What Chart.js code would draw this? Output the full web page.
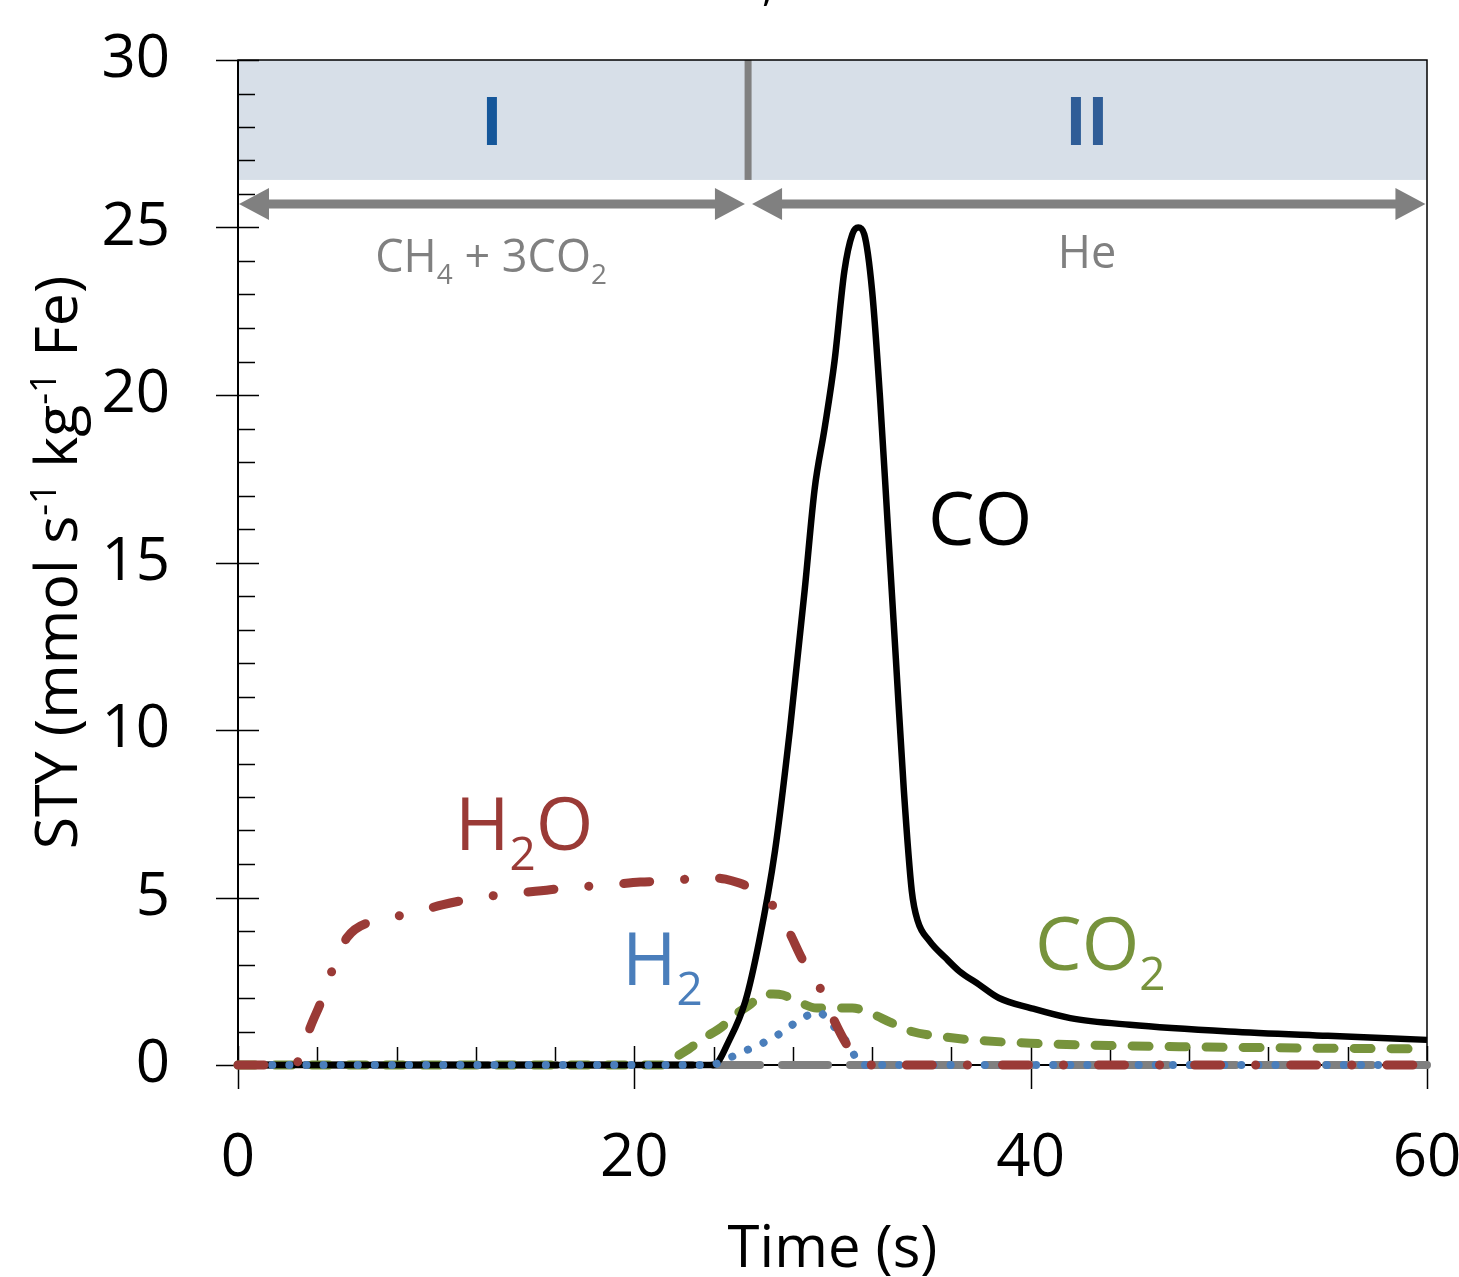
<!DOCTYPE html>
<html>
<head>
<meta charset="utf-8">
<script src="https://cdn.jsdelivr.net/npm/chart.js@4"></script>
<style>
  html, body { margin: 0; padding: 0; background: #fff; }
  canvas { display: block; }
</style>
</head>
<body>
<canvas id="chart" width="1459" height="1277"></canvas>
<script>
// Values: time in s, STY in mmol s-1 kg-1 Fe
const coTime = [0, 24.0, 24.8, 25.6, 26.3, 27.1, 27.85, 28.6, 29.1, 29.6, 30.1, 30.6, 31.0, 31.3, 31.6, 32.0, 32.4, 32.8, 33.2, 33.6, 34.0, 34.3, 34.9, 35.7, 36.4, 37.4, 38.4, 40, 42, 45, 50, 55, 60];
const coValues = [0, 0, 0.75, 1.9, 3.7, 6.4, 10.0, 14.2, 17.2, 19.0, 21.0, 23.7, 24.8, 25.0, 24.8, 23.1, 19.9, 16.0, 12.1, 8.2, 5.2, 4.3, 3.7, 3.2, 2.8, 2.4, 2.0, 1.7, 1.4, 1.2, 1.0, 0.87, 0.75];

const h2oTime = [0, 2.8, 3.2, 3.6, 4.2, 4.8, 5.5, 6.8, 8.6, 10.3, 11.8, 13.5, 15.3, 16.8, 18.6, 20.3, 21.9, 23.6, 24.6, 25.3, 26.0, 26.7, 27.7, 28.5, 29.3, 30.0, 30.8, 31.7, 60];
const h2oValues = [0, 0, 0.3, 1.05, 1.9, 2.9, 3.8, 4.3, 4.5, 4.78, 4.96, 5.1, 5.2, 5.3, 5.37, 5.46, 5.5, 5.6, 5.55, 5.43, 5.25, 4.96, 4.1, 3.13, 2.39, 1.43, 0.54, 0, 0];

const h2Time = [0, 23.8, 24.9, 25.7, 26.5, 27.3, 28.1, 28.9, 29.3, 29.7, 30.3, 30.9, 31.4, 60];
const h2Values = [0, 0, 0.24, 0.45, 0.66, 0.92, 1.25, 1.52, 1.58, 1.4, 0.98, 0.54, 0, 0];

const co2Time = [0, 21.5, 22.0, 22.8, 23.5, 24.4, 25.0, 25.8, 26.5, 27.0, 27.5, 28.3, 29.2, 30.0, 31.0, 31.9, 32.9, 34.0, 35.5, 37, 40, 45, 50, 55, 60];
const co2Values = [0, 0, 0.2, 0.5, 0.8, 1.13, 1.46, 1.79, 2.09, 2.12, 2.09, 1.88, 1.7, 1.7, 1.7, 1.55, 1.28, 1.0, 0.85, 0.75, 0.65, 0.57, 0.53, 0.5, 0.48];

const ch4Time = [0, 60];
const ch4Values = [0, 0];

const FONT = '"Open Sans", "DejaVu Sans", sans-serif';
const GRAY = '#808080';

function toPoints(times, values) {
    return times.map((t, i) => ({ x: t, y: values[i] }));
}

// Text with sub/superscript parts: [text, kind]
function drawRich(ctx, parts, x, y, size, color, align, bold) {
    const fontOf = s => (bold ? 'bold ' : '') + s + 'px ' + FONT;
    let total = 0;
    parts.forEach(([t, k]) => {
        ctx.font = fontOf(k ? size * 0.62 : size);
        total += ctx.measureText(t).width;
    });
    let cx = align === 'center' ? x - total / 2 : x;
    ctx.fillStyle = color;
    ctx.textAlign = 'left';
    ctx.textBaseline = 'alphabetic';
    parts.forEach(([t, k]) => {
        ctx.font = fontOf(k ? size * 0.62 : size);
        const dy = k === 'sub' ? size * 0.27 : (k === 'sup' ? -size * 0.35 : 0);
        ctx.fillText(t, cx, y + dy);
        cx += ctx.measureText(t).width;
    });
}

function drawArrow(ctx, x1, x2, y) {
    const hl = 30, hw = 16;
    ctx.strokeStyle = GRAY;
    ctx.fillStyle = GRAY;
    ctx.lineWidth = 9;
    ctx.beginPath();
    ctx.moveTo(x1 + hl - 2, y);
    ctx.lineTo(x2 - hl + 2, y);
    ctx.stroke();
    ctx.beginPath();
    ctx.moveTo(x1, y);
    ctx.lineTo(x1 + hl, y - hw);
    ctx.lineTo(x1 + hl, y + hw);
    ctx.closePath();
    ctx.fill();
    ctx.beginPath();
    ctx.moveTo(x2, y);
    ctx.lineTo(x2 - hl, y - hw);
    ctx.lineTo(x2 - hl, y + hw);
    ctx.closePath();
    ctx.fill();
}

// Phase band, axes, ticks and annotations
const decorPlugin = {
    id: 'decor',
    beforeDatasetsDraw(chart) {
        const { ctx, chartArea: a, scales: { x, y } } = chart;
        ctx.save();

        // phase band I / II
        const bandTop = y.getPixelForValue(30);
        const bandBottom = y.getPixelForValue(26.42);
        ctx.fillStyle = '#d7dfe8';
        ctx.fillRect(a.left, bandTop, a.right - a.left, bandBottom - bandTop);
        ctx.fillStyle = GRAY;
        const divX = x.getPixelForValue(25.74);
        ctx.fillRect(divX - 3.5, bandTop, 7, bandBottom - bandTop);

        // frame
        ctx.strokeStyle = '#000';
        ctx.lineWidth = 1.5;
        ctx.strokeRect(a.left, a.top, a.right - a.left, a.bottom - a.top);
        ctx.lineWidth = 2;
        ctx.beginPath();
        ctx.moveTo(a.left, a.top);
        ctx.lineTo(a.left, a.bottom);
        ctx.lineTo(a.right, a.bottom);
        ctx.stroke();

        // y ticks: major every 5 crossing the axis, minor every 1 inside
        ctx.lineWidth = 1.5;
        ctx.beginPath();
        for (let v = 0; v <= 30; v += 1) {
            const py = Math.round(y.getPixelForValue(v)) + 0.5;
            if (v % 5 === 0) {
                ctx.moveTo(a.left - 22, py);
                ctx.lineTo(a.left + 21, py);
            } else {
                ctx.moveTo(a.left, py);
                ctx.lineTo(a.left + 17, py);
            }
        }
        // x ticks: major every 20 crossing, minor every 4 inside
        for (let t = 0; t <= 60; t += 4) {
            const px = Math.round(x.getPixelForValue(t)) + 0.5;
            ctx.moveTo(px, a.bottom);
            ctx.lineTo(px, a.bottom - 18);
        }
        for (let t = 0; t <= 60; t += 20) {
            const px = Math.round(x.getPixelForValue(t)) + 0.5;
            ctx.moveTo(px, a.bottom - 19);
            ctx.lineTo(px, a.bottom + 24);
        }
        ctx.stroke();
        ctx.restore();
    },
    afterDatasetsDraw(chart) {
        const { ctx, scales: { x, y } } = chart;
        ctx.save();

        // phase labels
        drawRich(ctx, [['I', '']], x.getPixelForValue(12.82), y.getPixelForValue(27.46), 66, '#15579a', 'center', true);
        drawRich(ctx, [['II', '']], x.getPixelForValue(42.84), y.getPixelForValue(27.46), 66, '#2f5d97', 'center', true);

        // feed arrows
        const ay = y.getPixelForValue(25.7);
        drawArrow(ctx, x.getPixelForValue(0.05), x.getPixelForValue(25.58), ay);
        drawArrow(ctx, x.getPixelForValue(25.94), x.getPixelForValue(59.92), ay);
        drawRich(ctx, [['CH', ''], ['4', 'sub'], [' + 3CO', ''], ['2', 'sub']],
            x.getPixelForValue(12.77), y.getPixelForValue(23.67), 45, GRAY, 'center');
        drawRich(ctx, [['He', '']], x.getPixelForValue(42.84), y.getPixelForValue(23.79), 45, GRAY, 'center');

        // series labels
        drawRich(ctx, [['CO', '']], x.getPixelForValue(34.82), y.getPixelForValue(15.52), 74, '#000', 'left');
        drawRich(ctx, [['H', ''], ['2', 'sub'], ['O', '']], x.getPixelForValue(10.95), y.getPixelForValue(6.42), 74, '#9a3a36', 'left');
        drawRich(ctx, [['H', ''], ['2', 'sub']], x.getPixelForValue(19.38), y.getPixelForValue(2.39), 74, '#4a7ebb', 'left');
        drawRich(ctx, [['CO', ''], ['2', 'sub']], x.getPixelForValue(40.22), y.getPixelForValue(2.84), 74, '#77933c', 'left');

        // y axis title
        ctx.translate(77, (chart.chartArea.top + chart.chartArea.bottom) / 2);
        ctx.rotate(-Math.PI / 2);
        drawRich(ctx, [['STY (mmol s', ''], ['-1', 'sup'], [' kg', ''], ['-1', 'sup'], [' Fe)', '']], 0, 0, 59, '#000', 'center');
        ctx.restore();

        // fragment of the cut-off caption above the plot
        ctx.save();
        ctx.fillStyle = '#000';
        ctx.font = '44px ' + FONT;
        ctx.textAlign = 'left';
        ctx.textBaseline = 'alphabetic';
        ctx.fillText(',', 762, 0);
        ctx.restore();
    }
};

const ctx = document.getElementById('chart');

new Chart(ctx, {
    type: 'line',
    data: {
        datasets: [
            {
                label: 'H2O',
                data: toPoints(h2oTime, h2oValues),
                borderColor: '#9a3a36',
                borderWidth: 9,
                borderDash: [26, 35, 0.1, 35],
                borderCapStyle: 'round',
                cubicInterpolationMode: 'monotone',
                clip: 10,
                order: 0
            },
            {
                label: 'H2',
                data: toPoints(h2Time, h2Values),
                borderColor: '#4a7ebb',
                borderWidth: 8,
                borderDash: [0.1, 17],
                borderCapStyle: 'round',
                cubicInterpolationMode: 'monotone',
                clip: 10,
                order: 1
            },
            {
                label: 'CO',
                data: toPoints(coTime, coValues),
                borderColor: '#000',
                borderWidth: 6.5,
                cubicInterpolationMode: 'monotone',
                clip: 10,
                order: 2
            },
            {
                label: 'CO2',
                data: toPoints(co2Time, co2Values),
                borderColor: '#77933c',
                borderWidth: 9,
                borderDash: [17, 20],
                borderCapStyle: 'round',
                cubicInterpolationMode: 'monotone',
                clip: 10,
                order: 3
            },
            {
                label: 'CH4',
                data: toPoints(ch4Time, ch4Values),
                borderColor: GRAY,
                borderWidth: 8,
                borderDash: [46, 22],
                borderCapStyle: 'round',
                clip: 10,
                order: 4
            }
        ]
    },
    options: {
        responsive: false,
        animation: false,
        devicePixelRatio: 1,
        layout: {
            autoPadding: false,
            padding: { top: 60, right: 32, left: 0, bottom: 0 }
        },
        elements: { point: { radius: 0 } },
        plugins: {
            legend: { display: false },
            tooltip: { enabled: false }
        },
        scales: {
            x: {
                type: 'linear',
                min: 0,
                max: 60,
                grid: { display: false },
                border: { display: false },
                ticks: {
                    stepSize: 20,
                    color: '#000',
                    padding: 50,
                    maxRotation: 0,
                    font: { family: FONT, size: 60 }
                },
                title: {
                    display: true,
                    text: 'Time (s)',
                    color: '#000',
                    padding: { top: 0, bottom: -8 },
                    font: { family: FONT, size: 58 }
                },
                afterFit(scale) {
                    scale.height = 212;
                    scale.paddingLeft = 0;
                    scale.paddingRight = 0;
                }
            },
            y: {
                type: 'linear',
                min: 0,
                max: 30,
                grid: { display: false },
                border: { display: false },
                ticks: {
                    stepSize: 5,
                    color: '#000',
                    padding: 60,
                    font: { family: FONT, size: 60 }
                },
                afterFit(scale) {
                    scale.width = 238;
                    scale.paddingTop = 0;
                    scale.paddingBottom = 0;
                }
            }
        }
    },
    plugins: [decorPlugin]
});
</script>
</body>
</html>
